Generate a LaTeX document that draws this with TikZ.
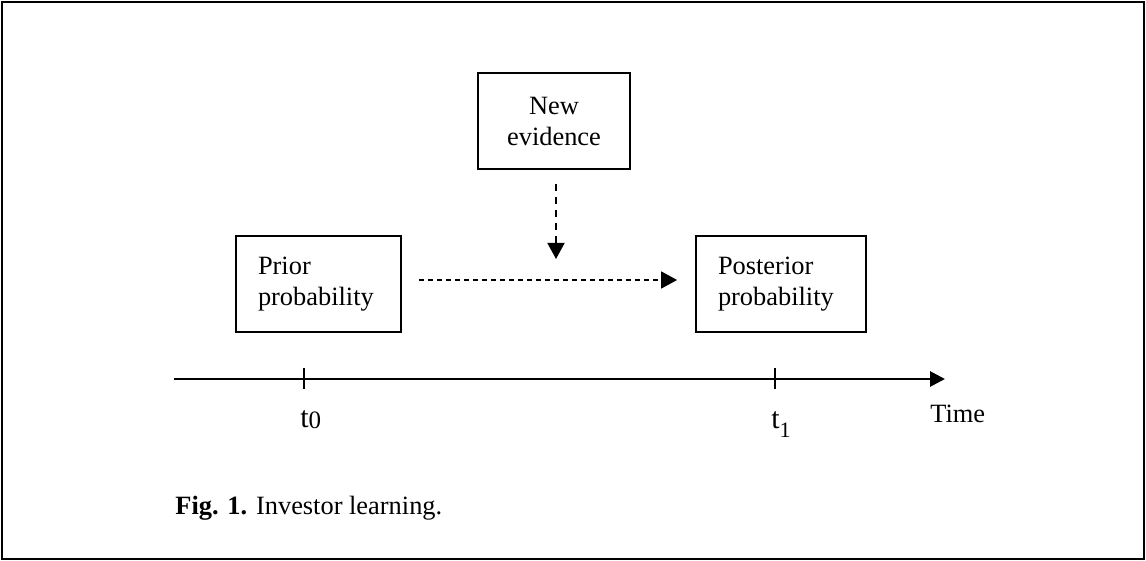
\documentclass[tikz,border=0pt]{standalone}
\usepackage{fontspec}
\setmainfont{Liberation Serif}
\usetikzlibrary{positioning, arrows.meta}
\tikzset{
    probbox/.style={draw, line width=0.9pt, minimum height=48pt, inner xsep=11pt, align=left, font=\fontsize{13.2}{15.5}\selectfont},
    dasharrow/.style={dashed, line width=0.8pt, -{Triangle[length=8pt,width=8.5pt]}},
    axislabel/.style={font=\fontsize{13.2}{15.5}\selectfont, anchor=base west, inner sep=0pt},
  }
\begin{document}
\begin{tikzpicture}[x=0.5pt,y=-0.5pt]
	\useasboundingbox (0,0) rectangle (1146,561);
	\draw[line width=1pt] (2,2) rectangle (1144,559);

	\node[probbox, text width=60.5pt, minimum width=82.5pt] (prior) at (318.5,284) {Prior\\probability};
	\node[probbox, text width=63pt, minimum width=85pt] (post) at (781,284) {Posterior\\probability};
	\node[probbox, align=center, text width=54pt, minimum width=76pt] (evid) at (554,121) {New\\evidence};

	\coordinate (meet) at (556,259);
	\draw[dasharrow, dash pattern=on 3.5pt off 3pt] ([xshift=1pt,yshift=-7pt]evid.south) -- (meet);
	\draw[dasharrow, dash pattern=on 2.5pt off 2pt] ([xshift=8.5pt,yshift=2pt]prior.east) -- ([xshift=-9pt,yshift=2pt]post.west);

	% time axis
	\coordinate (tl) at (174,379);
	\coordinate (tr) at (945,379);
	\draw[line width=1.4pt, -{Triangle[length=7.5pt,width=7.5pt]}] (tl) -- (tr);
	\foreach \x in {304, 775}{
		\draw[line width=1pt] (\x,368) -- (\x,389);
	}
	\node[axislabel, font=\fontsize{15}{15}\selectfont] (lab0) at (300,427) {t{\fontsize{12.5}{12}\selectfont\raisebox{-0.5pt}{0}}};
	\node[axislabel, font=\fontsize{15}{15}\selectfont] (lab1) at (771,428) {t{\fontsize{11}{10}\selectfont\raisebox{-4.5pt}{1}}};
	\node[axislabel] (time) at (930,422) {Time};

	\node[axislabel] (cap) at (175,514) {\textbf{Fig. 1.} Investor learning.};
\end{tikzpicture}
\end{document}
